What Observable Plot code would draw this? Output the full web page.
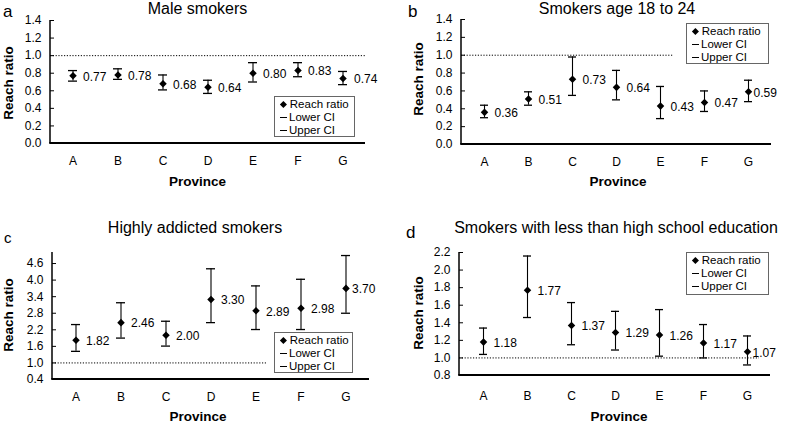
<!DOCTYPE html>
<html><head><meta charset="utf-8">
<script src="https://cdn.jsdelivr.net/npm/d3@7"></script>
<script src="https://cdn.jsdelivr.net/npm/@observablehq/plot@0.6"></script>
<style>
body{margin:0;background:#fff;}
#root{position:relative;width:786px;height:428px;font-family:"Liberation Sans",Arial,sans-serif;color:#000;overflow:hidden;background:#fff}
.t{position:absolute;white-space:nowrap;line-height:1}
.legend{position:absolute;border:1px solid #666;background:#fff;font-size:11.5px;box-sizing:border-box;padding:1px 0 0 5px}
.legend .row{height:13px;line-height:13px;display:flex;align-items:center}
.dia{display:inline-block;width:4.8px;height:4.8px;background:#000;transform:rotate(45deg);margin:0 4px 0 1px}
.dash{display:inline-block;width:7px;height:1.4px;background:#000;margin:0 2px 0 0}
svg{position:absolute}
</style></head>
<body><div id="root"></div>
<script>
const provinces = ["A","B","C","D","E","F","G"];

const maleRatio = [0.77,0.78,0.68,0.64,0.80,0.83,0.74];
const maleLower = [0.71,0.73,0.61,0.57,0.70,0.76,0.67];
const maleUpper = [0.83,0.85,0.78,0.72,0.92,0.92,0.82];

const youngRatio = [0.36,0.51,0.73,0.64,0.43,0.47,0.59];
const youngLower = [0.30,0.44,0.55,0.50,0.29,0.37,0.48];
const youngUpper = [0.44,0.59,0.98,0.83,0.65,0.60,0.72];

const addictedRatio = [1.82,2.46,2.00,3.30,2.89,2.98,3.70];
const addictedLower = [1.42,1.90,1.61,2.46,2.21,2.21,2.80];
const addictedUpper = [2.39,3.18,2.51,4.41,3.79,4.03,4.89];

const eduRatio = [1.18,1.77,1.37,1.29,1.26,1.17,1.07];
const eduLower = [1.04,1.46,1.15,1.09,1.02,1.00,0.92];
const eduUpper = [1.34,2.16,1.63,1.53,1.55,1.38,1.25];

const maleTicks = [0,0.2,0.4,0.6,0.8,1.0,1.2,1.4];
const youngTicks = [0,0.2,0.4,0.6,0.8,1.0,1.2,1.4];
const addictedTicks = [0.4,1.0,1.6,2.2,2.8,3.4,4.0,4.6];
const eduTicks = [0.8,1.0,1.2,1.4,1.6,1.8,2.0,2.2];

const maleDomain = [0,1.4];
const youngDomain = [0,1.4];
const addictedDomain = [0.4,5.0];
const eduDomain = [0.8,2.2];

const referenceValue = 1.0;

const panelTitles = ["Male smokers","Smokers age 18 to 24","Highly addicted smokers","Smokers with less than high school education"];
const panelLetters = ["a","b","c","d"];
const xAxisTitle = "Province";
const yAxisTitle = "Reach ratio";
const legendLabels = ["Reach ratio","Lower CI","Upper CI"];

const FONT = '"Liberation Sans", Arial, sans-serif';
const fmt = d3.format(".2f");
const root = document.getElementById("root");

const panels = [
  {ratio:maleRatio, lower:maleLower, upper:maleUpper, ticks:maleTicks, domain:maleDomain,
   left:0, top:0, ml:50, mr:28, mt:20, mb:71, xPad:13, refInset:0, lastDx:11,
   title:{cx:197.5, base:14.5}, letter:{x:3, base:17, fs:17}, ylab:{cx:8.5, cy:82.5}, xlab:{cx:197.5, base:186.5},
   legend:{left:274, top:96, w:81, h:41}},
  {ratio:youngRatio, lower:youngLower, upper:youngUpper, ticks:youngTicks, domain:youngDomain,
   left:393, top:0, ml:68, mr:15, mt:19, mb:70, xPad:13, refInset:98, lastDx:5,
   title:{cx:617, base:14.5}, letter:{x:408, base:17, fs:17}, ylab:{cx:419, cy:79}, xlab:{cx:618, base:186.5},
   legend:{left:686, top:23, w:83, h:41}},
  {ratio:addictedRatio, lower:addictedLower, upper:addictedUpper, ticks:addictedTicks, domain:addictedDomain,
   left:0, top:214, ml:52, mr:24, mt:38, mb:49, xPad:13, refInset:102, lastDx:6,
   title:{cx:195, base:233.5}, letter:{x:4, base:242.5, fs:15}, ylab:{cx:8.5, cy:314.8}, xlab:{cx:198, base:421.5},
   legend:{left:274, top:332, w:79, h:41}},
  {ratio:eduRatio, lower:eduLower, upper:eduUpper, ticks:eduTicks, domain:eduDomain,
   left:393, top:214, ml:66, mr:16, mt:38, mb:53, xPad:16, refInset:11, lastDx:5,
   title:{cx:616, base:234}, letter:{x:406, base:238, fs:17}, ylab:{cx:419, cy:313}, xlab:{cx:619, base:421.5},
   legend:{left:686, top:252, w:83, h:43}}
];

function addText(str, cx, base, fs, opts = {}) {
  const d = document.createElement("div");
  d.className = "t";
  d.textContent = str;
  d.style.fontSize = fs + "px";
  d.style.left = cx + "px";
  d.style.top = (base - 0.85 * fs) + "px";
  if (opts.bold) d.style.fontWeight = "bold";
  d.style.transform = opts.anchorStart ? "none" : "translateX(-50%)";
  root.appendChild(d);
}
function addRotated(str, cx, cy, fs) {
  const d = document.createElement("div");
  d.className = "t";
  d.textContent = str;
  d.style.fontSize = fs + "px";
  d.style.fontWeight = "bold";
  d.style.left = cx + "px";
  d.style.top = cy + "px";
  d.style.transform = "translate(-50%,-50%) rotate(-90deg)";
  root.appendChild(d);
}

function axisLines(index, scales, values, dims) {
  const g = d3.create("svg:g");
  const l = dims.marginLeft, t = dims.marginTop, b = dims.height - dims.marginBottom, r = dims.width - dims.marginRight;
  g.append("line").attr("x1", l).attr("x2", l).attr("y1", t).attr("y2", b).attr("stroke", "#000").attr("stroke-width", 1.5);
  g.append("line").attr("x1", l - 0.75).attr("x2", r).attr("y1", b).attr("y2", b).attr("stroke", "#000").attr("stroke-width", 2);
  return g.node();
}

panels.forEach((cfg, k) => {
  const data = provinces.map((p, i) => ({province: p, ratio: cfg.ratio[i], lower: cfg.lower[i], upper: cfg.upper[i]}));
  const W = 393, H = 214;
  const innerW = W - cfg.ml - cfg.mr;
  const chart = Plot.plot({
    width: W, height: H,
    marginLeft: cfg.ml, marginRight: cfg.mr, marginTop: cfg.mt, marginBottom: cfg.mb,
    style: {fontFamily: FONT, fontSize: "12px", color: "#000", background: "transparent", overflow: "visible"},
    x: {type: "band", domain: provinces, padding: 0},
    y: {domain: cfg.domain},
    marks: [
      Plot.ruleY([referenceValue], {stroke: "#000", strokeWidth: 1, strokeDasharray: "1.2,1.6", insetRight: cfg.refInset}),
      Plot.axisX({tickSize: 0, tickPadding: cfg.xPad, label: null, fontSize: 12}),
      Plot.axisY({ticks: cfg.ticks, tickSize: 0, tickPadding: 9, tickFormat: d3.format(".1f"), label: null, fontSize: 12}),
      Plot.tickY(cfg.ticks, {y: d => d, stroke: "#000", strokeWidth: 1, insetRight: innerW - 4}),
      axisLines,
      Plot.ruleX(data, {x: "province", y1: "lower", y2: "upper", stroke: "#000", strokeWidth: 1.1}),
      Plot.tickY(data, {x: "province", y: "upper", stroke: "#000", strokeWidth: 1.3, insetLeft: 18, insetRight: 18}),
      Plot.tickY(data, {x: "province", y: "lower", stroke: "#000", strokeWidth: 1.3, insetLeft: 18, insetRight: 18}),
      Plot.dot(data, {x: "province", y: "ratio", symbol: "diamond2", r: 3.4, fill: "#000", stroke: "none"}),
      Plot.text(data.slice(0, -1), {x: "province", y: "ratio", text: d => fmt(d.ratio), textAnchor: "start", dx: 10, dy: 1, fontSize: 12, fill: "#000"}),
      Plot.text(data.slice(-1), {x: "province", y: "ratio", text: d => fmt(d.ratio), textAnchor: "start", dx: cfg.lastDx, dy: 1, fontSize: 12, fill: "#000"})
    ]
  });
  chart.style.left = cfg.left + "px";
  chart.style.top = cfg.top + "px";
  root.appendChild(chart);

  addText(panelTitles[k], cfg.title.cx, cfg.title.base, 16);
  addText(panelLetters[k], cfg.letter.x, cfg.letter.base, cfg.letter.fs, {anchorStart: true});
  addRotated(yAxisTitle, cfg.ylab.cx, cfg.ylab.cy, 13.5);
  addText(xAxisTitle, cfg.xlab.cx, cfg.xlab.base, 13.5, {bold: true});

  const lg = document.createElement("div");
  lg.className = "legend";
  lg.style.left = cfg.legend.left + "px";
  lg.style.top = cfg.legend.top + "px";
  lg.style.width = cfg.legend.w + "px";
  lg.style.height = cfg.legend.h + "px";
  legendLabels.forEach((lab, j) => {
    const row = document.createElement("div");
    row.className = "row";
    const sym = document.createElement("span");
    sym.className = j === 0 ? "dia" : "dash";
    row.appendChild(sym);
    row.appendChild(document.createTextNode(lab));
    lg.appendChild(row);
  });
  root.appendChild(lg);
});
</script>
</body></html>
